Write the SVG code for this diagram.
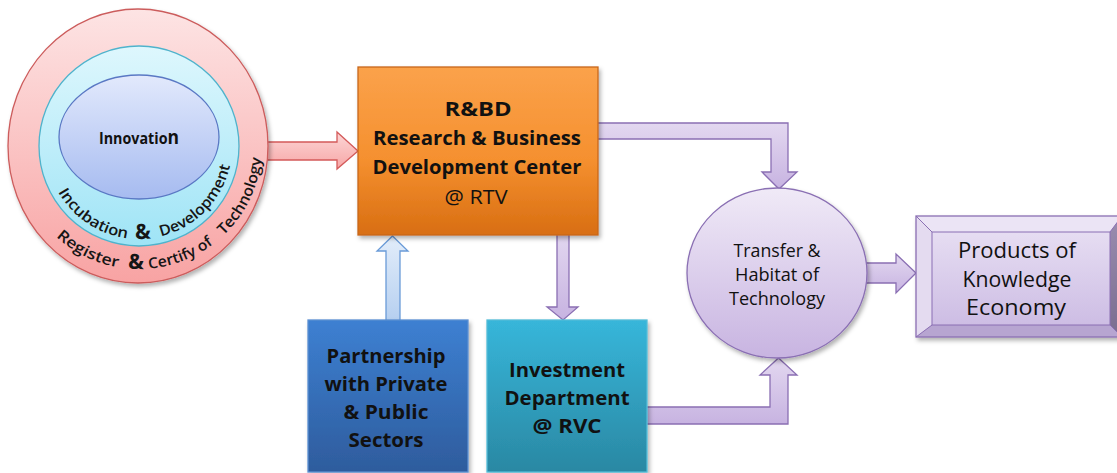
<svg xmlns="http://www.w3.org/2000/svg" width="1117" height="473" viewBox="0 0 1117 473">
  <defs>
    <style>
      .lbl { font-family: "Open Sans", "Liberation Sans", sans-serif; fill: #111; text-anchor: middle; }
      .b { font-weight: 700; }
      .ring { font-family: "Open Sans", "Liberation Sans", sans-serif; font-weight: 600; font-size: 15px; fill: #151515; }
      .amp { font-family: "Open Sans", "Liberation Sans", sans-serif; font-weight: 700; font-size: 21px; fill: #151515; }
      .parrow { fill: url(#gPurple); stroke: #8a6fb3; stroke-width: 1.3; }
    </style>
    <filter id="shadow" x="-10%" y="-10%" width="125%" height="125%">
      <feDropShadow dx="2" dy="3" stdDeviation="2" flood-color="#000" flood-opacity="0.3"/>
    </filter>
    <linearGradient id="gRed" x1="0" y1="0" x2="0" y2="1">
      <stop offset="0" stop-color="#fde4e4"/>
      <stop offset="1" stop-color="#f8a3a3"/>
    </linearGradient>
    <linearGradient id="gRedArrow" x1="0" y1="0" x2="0" y2="1">
      <stop offset="0" stop-color="#fcd6d6"/>
      <stop offset="1" stop-color="#f7a6a6"/>
    </linearGradient>
    <linearGradient id="gCyan" x1="0" y1="0" x2="0" y2="1">
      <stop offset="0" stop-color="#def7fd"/>
      <stop offset="1" stop-color="#9fe4f6"/>
    </linearGradient>
    <linearGradient id="gInno" x1="0" y1="0" x2="0" y2="1">
      <stop offset="0" stop-color="#e2e9fc"/>
      <stop offset="1" stop-color="#a6bbf0"/>
    </linearGradient>
    <linearGradient id="gOrange" x1="0" y1="0" x2="0" y2="1">
      <stop offset="0" stop-color="#fba24b"/>
      <stop offset="0.55" stop-color="#f5902f"/>
      <stop offset="1" stop-color="#d86e12"/>
    </linearGradient>
    <linearGradient id="gBlue" x1="0" y1="0" x2="0" y2="1">
      <stop offset="0" stop-color="#3d80d2"/>
      <stop offset="1" stop-color="#2e5c9d"/>
    </linearGradient>
    <linearGradient id="gTeal" x1="0" y1="0" x2="0" y2="1">
      <stop offset="0" stop-color="#37b6da"/>
      <stop offset="1" stop-color="#2a88a3"/>
    </linearGradient>
    <linearGradient id="gBlueArrow" x1="0" y1="0" x2="0" y2="1">
      <stop offset="0" stop-color="#e2edfa"/>
      <stop offset="1" stop-color="#b5cff0"/>
    </linearGradient>
    <linearGradient id="gPurple" x1="0" y1="0" x2="0" y2="1">
      <stop offset="0" stop-color="#e3d8f0"/>
      <stop offset="1" stop-color="#c7b3e1"/>
    </linearGradient>
    <linearGradient id="gCircle" x1="0" y1="0" x2="0" y2="1">
      <stop offset="0" stop-color="#f0eaf7"/>
      <stop offset="1" stop-color="#c8b4e1"/>
    </linearGradient>
    <linearGradient id="gFace" x1="0" y1="0" x2="0" y2="1">
      <stop offset="0" stop-color="#e6ddf2"/>
      <stop offset="1" stop-color="#cdbde4"/>
    </linearGradient>
    <linearGradient id="gRightBevel" x1="0" y1="0" x2="0" y2="1">
      <stop offset="0" stop-color="#9a8db0"/>
      <stop offset="1" stop-color="#7a6d8f"/>
    </linearGradient>
    <!-- baselines for the curved ring captions (lower halves, left to right) -->
    <path id="arcInner" d="M 46,146 A 93 93 0 0 0 232,146"/>
    <path id="arcOuter" d="M 16,146 A 123 123 0 0 0 262,146"/>
  </defs>

  <g id="connectors">
    <!-- rings to R&BD -->
    <polygon points="258,142 337,142 337,132 358,151 337,169 337,160 258,160" fill="url(#gRedArrow)" stroke="#d45a5a" stroke-width="1.3"/>
    <!-- R&BD to transfer circle (top elbow) -->
    <polygon class="parrow" points="594,123 788,123 788,172 797,172 779,189 762,172 771,172 771,139 594,139"/>
    <!-- R&BD down to investment -->
    <polygon class="parrow" points="557,230 569,230 569,307 578,307 563,320 547,307 557,307"/>
    <!-- partnership up to R&BD -->
    <polygon points="386,322 386,251 377,251 392.5,236 408,251 400,251 400,322" fill="url(#gBlueArrow)" stroke="#6a9bd8" stroke-width="1.3"/>
    <!-- investment to transfer circle (bottom elbow) -->
    <polygon class="parrow" points="645,407 770,407 770,375 760,375 778.5,358 797,375 788,375 788,424 645,424"/>
    <!-- transfer circle to products -->
    <polygon class="parrow" points="858,263 896,263 896,254 916,273 896,293 896,283 858,283"/>
  </g>

  <g id="rings">
    <ellipse cx="138" cy="146" rx="130" ry="137" fill="url(#gRed)" stroke="#cc5c5c" stroke-width="1.3" filter="url(#shadow)"/>
    <circle cx="139" cy="146" r="100" fill="url(#gCyan)" stroke="#4fb3cc" stroke-width="1.3"/>
    <text class="ring" textLength="70" lengthAdjust="spacingAndGlyphs"><textPath href="#arcOuter" startOffset="102">Register</textPath></text>
    <text class="amp" text-anchor="middle"><textPath href="#arcOuter" startOffset="190">&amp;</textPath></text>
    <text class="ring" textLength="70" lengthAdjust="spacingAndGlyphs"><textPath href="#arcOuter" startOffset="203">Certify of</textPath></text>
    <text class="ring" textLength="88" lengthAdjust="spacingAndGlyphs"><textPath href="#arcOuter" startOffset="286">Technology</textPath></text>
    <text class="ring" textLength="86" lengthAdjust="spacingAndGlyphs"><textPath href="#arcInner" startOffset="48">Incubation</textPath></text>
    <text class="amp" text-anchor="middle"><textPath href="#arcInner" startOffset="150">&amp;</textPath></text>
    <text class="ring" textLength="104" lengthAdjust="spacingAndGlyphs"><textPath href="#arcInner" startOffset="168">Development</textPath></text>
  </g>

  <g id="innovation">
    <ellipse cx="139" cy="137" rx="80" ry="62" fill="url(#gInno)" stroke="#5a78c4" stroke-width="1.3"/>
    <text class="lbl b" x="139" y="144" font-size="15.5" textLength="80" lengthAdjust="spacingAndGlyphs">Innovatio<tspan font-size="19">n</tspan></text>
  </g>

  <g id="rbd">
    <rect x="358" y="67" width="240" height="168" fill="url(#gOrange)" stroke="#c8671a" stroke-width="1.3" filter="url(#shadow)"/>
    <text class="lbl b" x="478" y="116" font-size="20" textLength="67" lengthAdjust="spacingAndGlyphs">R&amp;BD</text>
    <text class="lbl b" x="477" y="145" font-size="20" textLength="208" lengthAdjust="spacingAndGlyphs">Research &amp; Business</text>
    <text class="lbl b" x="477" y="174" font-size="20" textLength="209" lengthAdjust="spacingAndGlyphs">Development Center</text>
    <text class="lbl" x="476" y="204" font-size="20" textLength="63" lengthAdjust="spacingAndGlyphs">@ RTV</text>
  </g>

  <g id="partnership">
    <rect x="308" y="320" width="160" height="152" fill="url(#gBlue)" stroke="#5b8fd2" stroke-width="1.3" filter="url(#shadow)"/>
    <text class="lbl b" x="386" y="363" font-size="20" textLength="119" lengthAdjust="spacingAndGlyphs">Partnership</text>
    <text class="lbl b" x="386" y="391" font-size="20" textLength="123" lengthAdjust="spacingAndGlyphs">with Private</text>
    <text class="lbl b" x="386" y="419" font-size="20" textLength="85" lengthAdjust="spacingAndGlyphs">&amp; Public</text>
    <text class="lbl b" x="386" y="447" font-size="20" textLength="75" lengthAdjust="spacingAndGlyphs">Sectors</text>
  </g>

  <g id="investment">
    <rect x="487" y="320" width="160" height="152" fill="url(#gTeal)" stroke="#52bcd8" stroke-width="1.3" filter="url(#shadow)"/>
    <text class="lbl b" x="567" y="377" font-size="20" textLength="116" lengthAdjust="spacingAndGlyphs">Investment</text>
    <text class="lbl b" x="567" y="405" font-size="20" textLength="125" lengthAdjust="spacingAndGlyphs">Department</text>
    <text class="lbl b" x="567" y="433" font-size="20" textLength="69" lengthAdjust="spacingAndGlyphs">@ RVC</text>
  </g>

  <g id="transfer">
    <ellipse cx="777" cy="273" rx="90" ry="85" fill="url(#gCircle)" stroke="#8a6fb3" stroke-width="1.3" filter="url(#shadow)"/>
    <text class="lbl" x="777" y="257" font-size="18" textLength="87" lengthAdjust="spacingAndGlyphs">Transfer &amp;</text>
    <text class="lbl" x="777" y="281" font-size="18" textLength="84" lengthAdjust="spacingAndGlyphs">Habitat of</text>
    <text class="lbl" x="777" y="305" font-size="18" textLength="96" lengthAdjust="spacingAndGlyphs">Technology</text>
  </g>

  <g id="products">
    <g filter="url(#shadow)">
      <rect x="916" y="216" width="206" height="121" fill="#d9cdea"/>
      <polygon points="916,216 1122,216 1110,232 932,232" fill="#ebe4f5"/>
      <polygon points="916,216 932,232 932,325 916,337" fill="#e4dbf0"/>
      <polygon points="916,337 932,325 1110,325 1122,337" fill="#b7a5d1"/>
      <polygon points="1110,232 1122,216 1122,337 1110,325" fill="url(#gRightBevel)"/>
      <rect x="932" y="232" width="178" height="93" fill="url(#gFace)" stroke="#8a6fb3" stroke-width="1"/>
      <rect x="916" y="216" width="206" height="121" fill="none" stroke="#8a6fb3" stroke-width="1.3"/>
      <path d="M 916,216 L 932,232 M 916,337 L 932,325 M 1110,232 L 1122,216 M 1110,325 L 1122,337" stroke="#8a6fb3" stroke-width="1"/>
    </g>
    <text class="lbl" x="1017" y="258" font-size="22" textLength="118" lengthAdjust="spacingAndGlyphs">Products of</text>
    <text class="lbl" x="1017" y="287" font-size="22" textLength="109" lengthAdjust="spacingAndGlyphs">Knowledge</text>
    <text class="lbl" x="1016" y="315" font-size="22" textLength="100" lengthAdjust="spacingAndGlyphs">Economy</text>
  </g>
</svg>
